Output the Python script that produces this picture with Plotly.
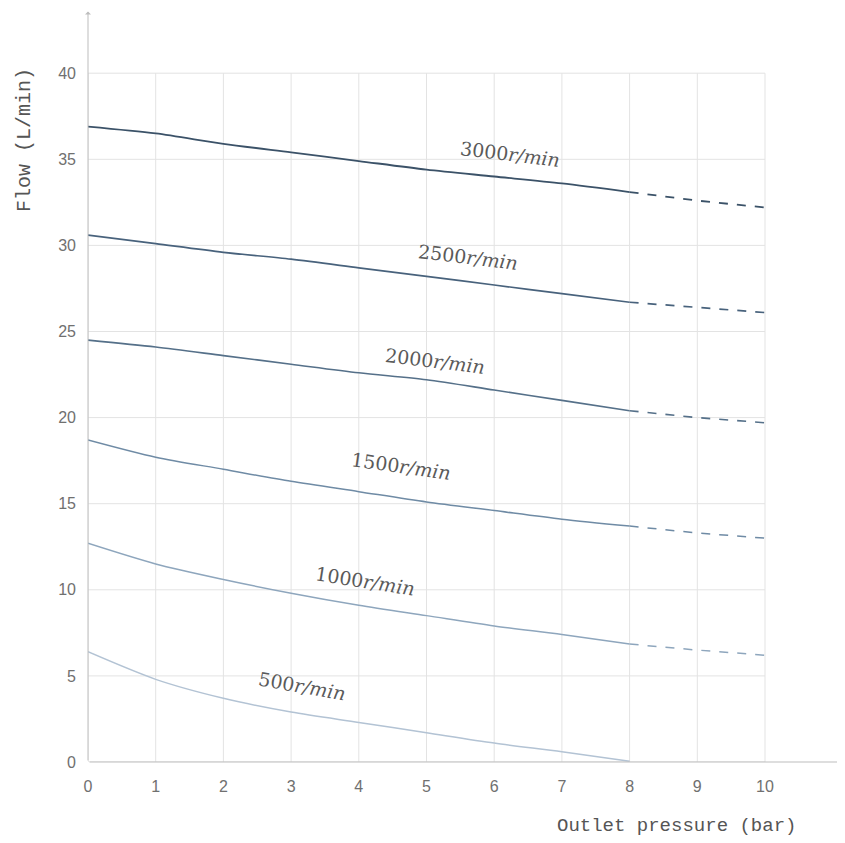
import plotly.graph_objects as go

pressure_solid = [0, 1, 2, 3, 4, 5, 6, 7, 8]
pressure_dash = [8, 9, 10]

speeds = ["3000", "2500", "2000", "1500", "1000", "500"]
unit = "r/min"

flow_3000 = [36.9, 36.5, 35.9, 35.4, 34.9, 34.4, 34.0, 33.6, 33.1]
flow_2500 = [30.6, 30.1, 29.6, 29.2, 28.7, 28.2, 27.7, 27.2, 26.7]
flow_2000 = [24.5, 24.1, 23.6, 23.1, 22.6, 22.2, 21.6, 21.0, 20.4]
flow_1500 = [18.7, 17.7, 17.0, 16.3, 15.7, 15.1, 14.6, 14.1, 13.7]
flow_1000 = [12.7, 11.5, 10.6, 9.8, 9.1, 8.5, 7.9, 7.4, 6.85]
flow_500 = [6.4, 4.8, 3.7, 2.9, 2.3, 1.7, 1.1, 0.6, 0.05]

dash_3000 = [33.1, 32.6, 32.2]
dash_2500 = [26.7, 26.4, 26.1]
dash_2000 = [20.4, 20.0, 19.7]
dash_1500 = [13.7, 13.3, 13.0]
dash_1000 = [6.85, 6.5, 6.2]

label_x = [6.23, 5.61, 5.13, 4.62, 4.09, 3.16]
label_y = [35.3, 29.3, 23.3, 17.2, 10.5, 4.4]
label_angle = [7, 7, 7, 8, 9, 10]

x_ticks = [0, 1, 2, 3, 4, 5, 6, 7, 8, 9, 10]
y_ticks = [0, 5, 10, 15, 20, 25, 30, 35, 40]

colors = ["#3b5268", "#48627c", "#557089", "#6f8ba5", "#8ea6bd", "#b3c3d4"]
widths = [1.8, 1.7, 1.6, 1.5, 1.5, 1.5]

solid = [flow_3000, flow_2500, flow_2000, flow_1500, flow_1000, flow_500]
dashed = [dash_3000, dash_2500, dash_2000, dash_1500, dash_1000, None]

# page is shown with an 8px body margin; compensate
OFF = 8
W, H = 845, 843
ml, mr, mt, mb = 88 - OFF, OFF, 0, H - (762 - OFF)
pw, ph = W - ml - mr, H - mt - mb
px_per_x = 67.7
px_per_y = 17.22

fig = go.Figure()

shapes = []
for xv in x_ticks:
    shapes.append(dict(type="line", xref="x", yref="y", x0=xv, x1=xv, y0=0, y1=y_ticks[-1],
                       line=dict(color="#e3e3e3", width=1), layer="below"))
for yv in y_ticks:
    shapes.append(dict(type="line", xref="x", yref="y", x0=0, x1=x_ticks[-1], y0=yv, y1=yv,
                       line=dict(color="#e3e3e3", width=1), layer="below"))

for name, ys, ds, c, w in zip(speeds, solid, dashed, colors, widths):
    fig.add_trace(go.Scatter(x=pressure_solid, y=ys, mode="lines", name=name + unit,
                             line=dict(color=c, width=w, shape="spline", smoothing=0.8),
                             showlegend=False))
    if ds is not None:
        fig.add_trace(go.Scatter(x=pressure_dash, y=ds, mode="lines", name=name + unit + " (dash)",
                                 line=dict(color=c, width=w, dash="dash"),
                                 showlegend=False))

annotations = []
for t, lx, ly, la in zip(speeds, label_x, label_y, label_angle):
    annotations.append(dict(x=lx, y=ly, xref="x", yref="y", text=t + "<i>" + unit + "</i>",
                            showarrow=False, textangle=la,
                            font=dict(family="DejaVu Serif, Liberation Serif, serif", size=19,
                                      color="#5a5a5a")))

annotations.append(dict(x=pw / px_per_x - 0.03, y=0, ax=0, ay=0, xref="x", yref="y",
                        axref="x", ayref="y", text="", showarrow=True, arrowhead=1,
                        arrowsize=1, arrowwidth=1, arrowcolor="#bdbdbd"))
annotations.append(dict(x=0, y=ph / px_per_y - 0.2, ax=0, ay=0, xref="x", yref="y",
                        axref="x", ayref="y", text="", showarrow=True, arrowhead=1,
                        arrowsize=1, arrowwidth=1, arrowcolor="#bdbdbd"))


def paper(px, py):
    fx, fy = px - OFF, py - OFF
    return (fx - ml) / pw, (H - mb - fy) / ph


yx, yy = paper(25, 140)
annotations.append(dict(x=yx, y=yy, xref="paper", yref="paper", text="Flow (L/min)",
                        showarrow=False, textangle=-90, xanchor="center", yanchor="middle",
                        font=dict(family="Liberation Mono, DejaVu Sans Mono, monospace",
                                  size=20, color="#555555")))
tx, ty = paper(676, 826)
annotations.append(dict(x=tx, y=ty, xref="paper", yref="paper", text="Outlet pressure (bar)",
                        showarrow=False, xanchor="center", yanchor="middle",
                        font=dict(family="Liberation Mono, DejaVu Sans Mono, monospace",
                                  size=19, color="#555555")))

fig.update_layout(
    width=W, height=H, autosize=False,
    margin=dict(l=ml, r=mr, t=mt, b=mb),
    plot_bgcolor="white", paper_bgcolor="white",
    shapes=shapes, annotations=annotations,
    xaxis=dict(range=[0, pw / px_per_x], tickvals=x_ticks, showgrid=False, zeroline=False,
               showline=False, ticks="", ticklabelstandoff=13,
               tickfont=dict(family="Liberation Sans, DejaVu Sans, sans-serif", size=16,
                             color="#707070")),
    yaxis=dict(range=[0, ph / px_per_y], tickvals=y_ticks, showgrid=False, zeroline=False,
               showline=False, ticks="", ticklabelstandoff=11,
               tickfont=dict(family="Liberation Sans, DejaVu Sans, sans-serif", size=16,
                             color="#707070")),
)

fig.write_html("out.html")
